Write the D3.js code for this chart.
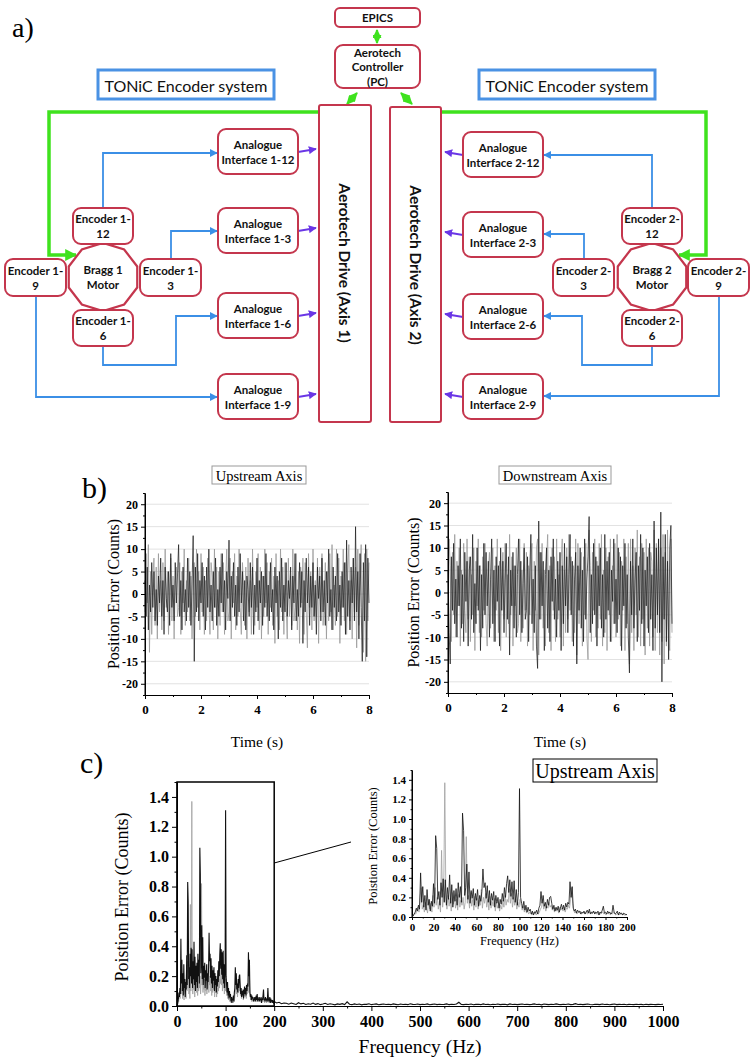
<!DOCTYPE html>
<html><head><meta charset="utf-8">
<script src="https://cdn.jsdelivr.net/npm/d3@7"></script>
<style>body{margin:0;background:#fff} svg{display:block}</style>
</head><body><svg id="c" width="756" height="1064"></svg>
<script>
// ---------------- DATA ----------------
const timeStep = 0.04; // s between samples
const upstreamBlack = [3,-5,6,-8,2,-4,7,-3,5,-6, 1,-7,4,-2,8,-5,3,-9,6,-1, -4,5,-7,9,-3,2,-6,7,-2,4, 11,-5,3,-8,6,-4,1,-6,8,-3, 5,-7,2,13,-15,6,-4,9,-6,3, -2,7,-5,4,-8,6,-3,10,-4,2, -6,5,-3,8,-7,1,-5,6,-2,9, -4,3,-8,5,-1,12,-6,4,-3,7, -5,2,-7,6,-4,9,-2,5,-6,3, -8,4,1,-5,7,-3,6,-9,2,-4, 8,-6,3,-2,5,-7,4,-3,9,-5, 2,-6,7,-4,1,-8,6,-2,4,-10, 5,-3,8,-6,2,-4,7,-5,3,-1, 6,-8,4,-2,9,-6,1,-5,7,-3, 5,-11,3,-4,8,-2,6,-7,4,-3, 7,-5,2,-9,6,-1,4,-6,8,-4, 3,-7,5,-2,10,-5,1,-8,6,-3, 4,-6,9,-4,2,-7,5,-3,7,-9, 12,-5,3,-8,6,-2,8,-6,15,-4, 5,-10,9,-3,-15,7,-6,11,-14,8, -2];
const upstreamGray = [-4,9,-2,11,-13,5,-9,4,8,-7, 6,-10,9,-4,3,-8,7,-6,10,-3, 5,-9,2,8,-6,4,-10,3,6,-5, -3,7,-9,5,-2,10,-7,3,-4,8, -6,4,-10,2,7,-5,10,-3,5,-8, 9,-4,6,-9,3,-6,8,-2,-9,7, 4,-8,10,-3,6,-10,5,-7,9,-4, 7,-9,3,10,-6,-4,8,-10,5,-2, 9,-8,4,-5,10,-3,-9,7,2,-7, 6,-10,8,-4,3,-9,10,-2,-7,5, -3,9,-8,6,-10,4,-5,10,-2,7, -9,5,-3,8,-7,4,-11,9,-5,3, -8,10,-4,6,-9,7,-3,-10,8,-5, 4,-7,10,-6,-3,9,-8,5,-11,6, -2,8,-9,7,-4,-12,9,-3,5,-8, 10,-6,3,-5,8,-11,6,-4,9,-7, -3,7,-10,5,-6,9,-4,11,-8,2, -7,10,-5,8,-11,4,-3,10,-6,7, -9,5,11,-6,3,-10,8,-4,6,-12, 10,-7,4,11,-5,-13,9,-15,10,-6, 7];
const downstreamBlack = [5,-9,-16,8,-4,11,-7,3,-10,6, -3,12,-8,4,-11,9,-2,7,-12,5, 8,-6,13,-9,2,-7,10,-4,6,-13, 4,-8,11,-5,9,-3,7,-10,3,12, -7,5,-11,8,-2,6,-12,10,-4,7, -9,3,11,-6,8,-14,5,-3,9,-8, 6,-10,4,12,-5,7,-9,2,10,-6, -4,8,-11,5,13,-7,3,-9,6,-12, -17,16,-6,9,-3,7,-13,4,10,-8, 5,-11,8,-2,12,-6,3,-10,7,-4, 9,-13,6,-7,11,-3,8,-9,4,13, -5,7,-12,3,9,-16,6,-4,10,-8, 5,-11,12,-6,3,8,17,-9,4,-7, 11,-5,8,-12,6,-3,10,-8,4,-10, 13,-6,7,-4,9,-11,5,-2,12,-7, 3,-9,10,-5,8,-13,6,-3,11,-8, 4,-10,-18,7,-5,12,-8,3,9,-11, 6,-4,13,-7,10,-12,5,-3,8,-9, 11,-6,4,-13,16,-8,10,-5,12,-9, 18,-20,8,-6,13,-11,7,-15,10,15, -7];
const downstreamGray = [-8,12,6,-11,9,-5,13,-10,7,-3, 10,-12,5,-7,11,-4,-9,12,-6,8, -11,4,-5,10,-13,7,-3,12,-9,6, -10,8,-4,11,-7,-12,5,9,-8,3, 10,-11,6,-4,12,-9,7,-13,3,9, -6,11,-10,4,-7,13,-5,8,-12,6, -3,10,-9,-7,12,-11,5,-8,11,-4, 9,-12,6,-5,8,11,-13,7,-4,10, 12,-14,9,-6,11,-8,5,-12,7,13, -9,6,-13,10,-4,8,-11,12,-6,4, -10,7,12,-12,5,-9,10,-6,13,-4, 8,-11,6,-9,12,-14,11,-7,4,9, -12,8,-5,11,-10,-15,14,6,-11,9, -4,12,-10,7,-8,11,-6,13,-12,5, -9,10,-13,8,-5,12,-11,6,-7,11, -10,13,-6,9,-12,7,-4,12,-13,8, -7,11,-16,12,-9,6,-13,10,-5,14, -10,8,-12,11,-6,9,-14,12,-8,10, -12,9,7,-10,14,-13,11,-9,12,-14, 10,-11,13,-16,9,-12,14,-10,-13,12, -9];
// Spectrum, 1 Hz bins 0..200 Hz
const spectrumBlack = [0.00,0.01,0.03,0.05,0.09,0.06,0.12,0.08,0.45,0.15, 0.31,0.10,0.22,0.07,0.28,0.12,0.18,0.06,0.16,0.11, 0.34,0.14,0.83,0.70,0.18,0.26,0.12,0.35,0.20,0.39, 0.15,0.38,0.12,0.30,0.18,0.43,0.14,0.33,0.10,0.27, 0.16,0.29,0.12,0.35,0.20,0.31,0.15,1.06,0.88,0.22, 0.30,0.54,0.18,0.46,0.14,0.27,0.19,0.29,0.12,0.24, 0.17,0.28,0.11,0.22,0.16,0.26,0.49,0.30,0.35,0.19, 0.32,0.15,0.27,0.12,0.24,0.17,0.26,0.10,0.22,0.14, 0.20,0.09,0.18,0.13,0.24,0.16,0.30,0.20,0.34,0.42, 0.25,0.38,0.21,0.36,0.18,0.37,0.15,0.28,0.12,0.25, 1.31,0.20,0.14,0.09,0.16,0.07,0.12,0.05,0.10,0.06, 0.08,0.03,0.06,0.02,0.05,0.04,0.07,0.03,0.09,0.12, 0.26,0.14,0.22,0.11,0.15,0.09,0.18,0.12,0.20,0.21, 0.14,0.08,0.12,0.06,0.10,0.07,0.11,0.05,0.09,0.13, 0.08,0.12,0.07,0.14,0.10,0.15,0.13,0.36,0.20,0.31, 0.09,0.06,0.08,0.04,0.07,0.05,0.06,0.03,0.05,0.04, 0.06,0.03,0.05,0.07,0.04,0.08,0.03,0.05,0.04,0.06, 0.03,0.05,0.04,0.06,0.02,0.05,0.04,0.07,0.11,0.04, 0.05,0.03,0.06,0.04,0.05,0.03,0.04,0.12,0.05,0.03, 0.04,0.06,0.02,0.05,0.03,0.04,0.02,0.04,0.03,0.02, 0.03];
// second trace, bins at 0.5 .. 199.5 Hz
const spectrumGray = [0.00,0.02,0.04,0.03,0.07,0.10,0.05,0.20,0.30,0.08, 0.12,0.05,0.15,0.09,0.04,0.18,0.08,0.14,0.05,0.22, 0.10,0.30,0.12,0.20,0.08,0.16,0.05,0.68,0.10,0.25, 1.37,0.20,0.08,0.22,0.11,0.19,0.06,0.25,0.13,0.20, 0.09,0.18,0.07,0.23,0.10,0.17,0.12,0.20,0.08,0.15, 0.82,0.14,0.22,0.09,0.25,0.11,0.18,0.07,0.21,0.10, 0.19,0.08,0.17,0.12,0.28,0.09,0.20,0.14,0.24,0.10, 0.18,0.07,0.21,0.09,0.16,0.11,0.19,0.06,0.15,0.09, 0.14,0.06,0.12,0.08,0.17,0.10,0.22,0.12,0.18,0.15, 0.29,0.14,0.24,0.10,0.20,0.12,0.18,0.08,0.15,0.10, 0.18,0.12,0.07,0.11,0.05,0.09,0.04,0.07,0.03,0.05, 0.04,0.02,0.05,0.03,0.06,0.02,0.04,0.03,0.05,0.08, 0.10,0.18,0.08,0.13,0.06,0.11,0.09,0.15,0.10,0.12, 0.07,0.10,0.05,0.09,0.06,0.08,0.04,0.10,0.07,0.09, 0.06,0.10,0.05,0.09,0.08,0.12,0.09,0.18,0.30,0.14, 0.07,0.04,0.06,0.03,0.05,0.04,0.06,0.03,0.04,0.05, 0.03,0.05,0.04,0.03,0.06,0.04,0.05,0.03,0.06,0.04, 0.05,0.03,0.04,0.02,0.05,0.03,0.04,0.05,0.03,0.04, 0.02,0.04,0.03,0.05,0.02,0.04,0.03,0.05,0.04,0.02, 0.03,0.04,0.02,0.03,0.04,0.02,0.03,0.02,0.03,0.02];
// tail, 5 Hz bins from 200 to 1000 Hz
const spectrumTail = [0.03,0.02,0.025,0.015,0.02,0.018,0.012,0.02,0.015,0.01, 0.022,0.014,0.018,0.01,0.015,0.012,0.02,0.011,0.016,0.009, 0.013,0.018,0.01,0.015,0.012,0.008,0.014,0.011,0.016,0.01, 0.028,0.012,0.009,0.014,0.01,0.013,0.008,0.012,0.011,0.015, 0.009,0.012,0.014,0.008,0.011,0.013,0.01,0.012,0.009,0.014, 0.011,0.008,0.013,0.01,0.012,0.009,0.015,0.011,0.01,0.013, 0.009,0.012,0.01,0.014,0.008,0.011,0.013,0.009,0.012,0.01, 0.011,0.014,0.009,0.012,0.01,0.013,0.025,0.011,0.009,0.012, 0.01,0.013,0.008,0.011,0.012,0.009,0.014,0.01,0.011,0.008, 0.012,0.01,0.013,0.009,0.011,0.012,0.008,0.014,0.01,0.012, 0.009,0.011,0.013,0.01,0.012,0.009,0.011,0.014,0.01,0.012, 0.008,0.013,0.011,0.009,0.012,0.01,0.014,0.011,0.009,0.012, 0.01,0.013,0.009,0.011,0.016,0.01,0.012,0.009,0.011,0.013, 0.01,0.008,0.012,0.011,0.009,0.013,0.01,0.012,0.008,0.011, 0.013,0.009,0.011,0.01,0.012,0.008,0.011,0.01,0.009,0.012, 0.01,0.011,0.008,0.012,0.009,0.011,0.01,0.009,0.011,0.01, 0.012];
const timeTicks = [0,2,4,6,8];
const errTicks = [-20,-15,-10,-5,0,5,10,15,20];
const freqTicksMain = [0,100,200,300,400,500,600,700,800,900,1000];
const freqTicksInset = [0,20,40,60,80,100,120,140,160,180,200];
const ampTicks = [0,0.2,0.4,0.6,0.8,1.0,1.2,1.4];

// Diagram labels
const leftInterfaces = ["1-12","1-3","1-6","1-9"];
const rightInterfaces = ["2-12","2-3","2-6","2-9"];

// ---------------- DRAW ----------------
const svg = d3.select("#c");
const COL = {box:"#c4364d", blue:"#3b8fe6", green:"#3fe21e", purple:"#6a36e6", tonic:"#4a92e4"};
const SANS = "Lato, 'Open Sans', sans-serif";
const SERIF = "'Liberation Serif', 'Times New Roman', serif";

const defs = svg.append("defs");
function marker(id, color, size){
  defs.append("marker").attr("id",id).attr("viewBox","0 0 10 10").attr("refX",9).attr("refY",5)
    .attr("markerWidth",size).attr("markerHeight",size).attr("markerUnits","userSpaceOnUse")
    .attr("orient","auto-start-reverse")
    .append("path").attr("d","M0,0 L10,5 L0,10 z").attr("fill",color);
}
marker("mb",COL.blue,8); marker("mg",COL.green,12); marker("mg2",COL.green,9); marker("mp",COL.purple,8);

const dg = svg.append("g");
function line(d,color,w,mk,both){
  const p = dg.append("path").attr("d",d).attr("fill","none").attr("stroke",color).attr("stroke-width",w);
  if(mk){ p.attr("marker-end",`url(#${mk})`); if(both) p.attr("marker-start",`url(#${mk})`); }
  return p;
}
function rbox(x,y,w,h,lines,opt={}){
  dg.append("rect").attr("x",x).attr("y",y).attr("width",w).attr("height",h)
    .attr("rx",opt.rx??8).attr("fill","#fff").attr("stroke",opt.stroke||COL.box).attr("stroke-width",opt.sw||2);
  const fs = opt.fs||11.5, lh = opt.lh||15;
  const cy = y+h/2 - (lines.length-1)*lh/2;
  lines.forEach((t,i)=>{
    dg.append("text").attr("x",x+w/2+(opt.dx||0)).attr("y",cy+i*lh).attr("text-anchor","middle")
      .attr("dominant-baseline","central").attr("font-family",opt.font||SANS)
      .attr("font-weight",opt.weight||"bold").attr("font-size",fs).attr("fill","#111").text(t);
  });
}
function poly(cx,cy,rx,ry,lines){
  const n=10, pts=d3.range(n).map(k=>{const a=(k*36+18)*Math.PI/180;return [cx+rx*Math.cos(a),cy+ry*Math.sin(a)];});
  dg.append("polygon").attr("points",pts.map(p=>p.join(",")).join(" ")).attr("fill","#fff").attr("stroke",COL.box).attr("stroke-width",2.2);
  lines.forEach((t,i)=>dg.append("text").attr("x",cx).attr("y",cy-7.5+i*15).attr("text-anchor","middle")
    .attr("dominant-baseline","central").attr("font-family",SANS).attr("font-weight","bold").attr("font-size",11.5).attr("fill","#111").text(t));
}

// panel label a)
svg.append("text").attr("x",12).attr("y",37).attr("font-family",SERIF).attr("font-size",28).text("a)");

// green lines
line("M319,112 H49 V255 H76",COL.green,3.5,"mg");
line("M441,112 H706 V255 H679",COL.green,3.5,"mg");
line("M377,30 V43",COL.green,2.2,"mg2",true);
line("M357,93 L347,104",COL.green,2.2,"mg2",true);
line("M401,93 L412,104",COL.green,2.2,"mg2",true);

// blue lines
line("M103,208 V153 H217",COL.blue,1.8,"mb");
line("M171,259 V231 H217",COL.blue,1.8,"mb");
line("M103,346 V365 H176 V316 H217",COL.blue,1.8,"mb");
line("M36,296 V397 H217",COL.blue,1.8,"mb");
line("M652,208 V155 H544",COL.blue,1.8,"mb");
line("M584,259 V234 H544",COL.blue,1.8,"mb");
line("M652,346 V365 H582 V316 H544",COL.blue,1.8,"mb");
line("M719,296 V396 H544",COL.blue,1.8,"mb");

// purple arrows
const leftTops=[129,208,293,374], rightTops=[132,212,294,374];
leftTops.forEach(t=>line(`M298,${t+23} L316,${t+20}`,COL.purple,1.8,"mp"));
rightTops.forEach(t=>line(`M463,${t+23} L445,${t+20}`,COL.purple,1.8,"mp"));

// TONiC boxes
[[98,"TONiC Encoder system"],[479,"TONiC Encoder system"]].forEach(([x,t])=>{
  dg.append("rect").attr("x",x).attr("y",70).attr("width",176).attr("height",29).attr("fill","#fff")
    .attr("stroke",COL.tonic).attr("stroke-width",3);
  dg.append("text").attr("x",x+88).attr("y",85).attr("text-anchor","middle").attr("dominant-baseline","central")
    .attr("font-family",SANS).attr("font-size",16).attr("fill","#111").text(t);
});

// controller + epics
rbox(335,8,85,19,["EPICS"],{rx:5,fs:11.5});
rbox(335,45,85,43,["Aerotech","Controller","(PC)"],{fs:11.5,lh:14.5});

// drives
[[319,105,52,317,"Aerotech Drive (Axis 1)"],[390,107,51,315,"Aerotech Drive (Axis 2)"]].forEach(([x,y,w,h,t])=>{
  dg.append("rect").attr("x",x).attr("y",y).attr("width",w).attr("height",h).attr("rx",2)
    .attr("fill","#fff").attr("stroke",COL.box).attr("stroke-width",2);
  dg.append("text").attr("transform",`translate(${x+w/2},${y+158}) rotate(90)`).attr("text-anchor","middle")
    .attr("dominant-baseline","central").attr("font-family",SANS).attr("font-weight","bold").attr("font-size",15.5)
    .attr("fill","#111").text(t);
});

// analogue interfaces
leftInterfaces.forEach((s,i)=>rbox(218,leftTops[i],80,45,["Analogue","Interface "+s]));
rightInterfaces.forEach((s,i)=>rbox(463,rightTops[i],80,45,["Analogue","Interface "+s]));

// motors + encoders
poly(103,277,36,34,["Bragg 1","Motor"]);
poly(652,277,36,34,["Bragg 2","Motor"]);
rbox(73,208,60,36,["Encoder 1-","12"]);
rbox(140,259,61,37,["Encoder 1-","3"]);
rbox(5,259,61,37,["Encoder 1-","9"]);
rbox(73,310,60,36,["Encoder 1-","6"]);
rbox(622,208,60,36,["Encoder 2-","12"]);
rbox(553,259,61,37,["Encoder 2-","3"]);
rbox(688,259,61,37,["Encoder 2-","9"]);
rbox(622,310,60,36,["Encoder 2-","6"]);

// ---------------- PANEL B ----------------
svg.append("text").attr("x",82).attr("y",498).attr("font-family",SERIF).attr("font-size",30).text("b)");

function styleAxis(g,fs,bold){
  g.selectAll("path").attr("stroke","#000").attr("stroke-width",1);
  g.selectAll("line").attr("stroke","#000");
  g.selectAll("text").attr("font-family",SERIF).attr("font-size",fs).attr("font-weight",bold?"bold":"normal").attr("fill","#000");
}
function range(a,b,s){const r=[];for(let v=a;v<=b+1e-9;v+=s)r.push(+v.toFixed(4));return r;}

function timePanel(x0,x1,yTop,yBot,black,gray,title,box,ytx){
  const xs=d3.scaleLinear([0,8],[x0,x1]);
  const ys=d3.scaleLinear([-22.5,22.5],[yBot,yTop]);
  const g=svg.append("g");
  g.selectAll("line.grid").data(errTicks).join("line").attr("x1",x0).attr("x2",x1)
    .attr("y1",d=>ys(d)).attr("y2",d=>ys(d)).attr("stroke","#e2e2e2").attr("stroke-width",1);
  const ln=d3.line().x((d,i)=>xs(i*timeStep)).y(d=>ys(d));
  g.append("path").attr("d",ln(gray)).attr("fill","none").attr("stroke","#9a9a9a").attr("stroke-width",0.8);
  g.append("path").attr("d",ln(black)).attr("fill","none").attr("stroke","#1a1a1a").attr("stroke-width",0.8).attr("opacity",0.9);
  const ax=g.append("g").attr("transform",`translate(${x0},0)`)
    .call(d3.axisLeft(ys).tickValues(errTicks).tickSize(4).tickFormat(d=>String(d)).tickSizeOuter(0));
  styleAxis(ax,12,true);
  const axm=g.append("g").attr("transform",`translate(${x0},0)`)
    .call(d3.axisLeft(ys).tickValues(range(-22.5,22.5,2.5).filter(v=>v%5!==0)).tickSize(2).tickFormat("").tickSizeOuter(0));
  axm.select("path").remove(); axm.selectAll("line").attr("stroke","#000");
  const bx=g.append("g").attr("transform",`translate(0,${yBot})`)
    .call(d3.axisBottom(xs).tickValues(timeTicks).tickSize(4).tickFormat(d=>String(d)).tickSizeOuter(0).tickPadding(6));
  styleAxis(bx,13,true);
  const bxm=g.append("g").attr("transform",`translate(0,${yBot})`)
    .call(d3.axisBottom(xs).tickValues([1,3,5,7]).tickSize(2).tickFormat("").tickSizeOuter(0));
  bxm.select("path").remove(); bxm.selectAll("line").attr("stroke","#000");
  g.append("line").attr("x1",x0).attr("x2",x0).attr("y1",yTop).attr("y2",yBot).attr("stroke","#000");
  g.append("text").attr("transform",`translate(${ytx},${(yTop+yBot)/2}) rotate(-90)`).attr("text-anchor","middle")
    .attr("dominant-baseline","central").attr("font-family",SERIF).attr("font-size",16).text("Position Error (Counts)");
  g.append("text").attr("x",(x0+x1)/2).attr("y",741).attr("text-anchor","middle").attr("dominant-baseline","central")
    .attr("font-family",SERIF).attr("font-size",15.5).text("Time (s)");
  g.append("rect").attr("x",box[0]).attr("y",466).attr("width",box[1]-box[0]).attr("height",18).attr("fill","#fff")
    .attr("stroke","#999").attr("stroke-width",1);
  g.append("text").attr("x",(box[0]+box[1])/2).attr("y",475.5).attr("text-anchor","middle").attr("dominant-baseline","central")
    .attr("font-family",SERIF).attr("font-size",14.5).text(title);
}
timePanel(145,369,493,695,upstreamBlack,upstreamGray,"Upstream Axis",[212,306],113);
timePanel(448,672,492,693,downstreamBlack,downstreamGray,"Downstream Axis",[499,611],413);

// ---------------- PANEL C ----------------
svg.append("text").attr("x",80).attr("y",773).attr("font-family",SERIF).attr("font-size",30).text("c)");

function specPanel(opt){
  const xs=d3.scaleLinear([0,opt.xmax],[opt.x0,opt.x1]);
  const ys=d3.scaleLinear([0,1.5],[opt.yBot,opt.yTop]);
  const g=svg.append("g");
  const ax=g.append("g").attr("transform",`translate(${opt.x0},0)`)
    .call(d3.axisLeft(ys).tickValues(ampTicks).tickSize(opt.tk).tickFormat(d3.format(".1f")).tickSizeOuter(0).tickPadding(3));
  styleAxis(ax,opt.fs,true);
  const axm=g.append("g").attr("transform",`translate(${opt.x0},0)`)
    .call(d3.axisLeft(ys).tickValues([0.1,0.3,0.5,0.7,0.9,1.1,1.3,1.5]).tickSize(opt.tk/2).tickFormat("").tickSizeOuter(0));
  axm.select("path").remove(); axm.selectAll("line").attr("stroke","#000");
  const bx=g.append("g").attr("transform",`translate(0,${opt.yBot})`)
    .call(d3.axisBottom(xs).tickValues(opt.xticks).tickSize(opt.tk).tickFormat(d=>String(d)).tickSizeOuter(0).tickPadding(opt.xpad));
  styleAxis(bx,opt.fs,true);
  const bxm=g.append("g").attr("transform",`translate(0,${opt.yBot})`)
    .call(d3.axisBottom(xs).tickValues(opt.xticks.slice(0,-1).map(v=>v+opt.xticks[1]/2)).tickSize(opt.tk/2).tickFormat("").tickSizeOuter(0));
  bxm.select("path").remove(); bxm.selectAll("line").attr("stroke","#000");
  g.append("line").attr("x1",opt.x0).attr("x2",opt.x0).attr("y1",opt.yTop).attr("y2",opt.yBot).attr("stroke","#000");
  // data drawn on top of the axes
  const gpts=spectrumGray.map((v,i)=>[i+0.5,v]);
  let bpts=spectrumBlack.map((v,i)=>[i,v]);
  if(opt.tail) bpts=bpts.concat(spectrumTail.slice(1).map((v,i)=>[205+5*i,v]));
  const ln=d3.line().x(d=>xs(d[0])).y(d=>ys(d[1]));
  g.append("path").attr("d",ln(gpts)).attr("fill","none").attr("stroke","#a0a0a0").attr("stroke-width",0.8);
  g.append("path").attr("d",ln(bpts)).attr("fill","none").attr("stroke","#111").attr("stroke-width",opt.tail?1.1:0.8);
  g.append("text").attr("transform",`translate(${opt.ytx},${opt.yty}) rotate(-90)`).attr("text-anchor","middle")
    .attr("dominant-baseline","central").attr("font-family",SERIF).attr("font-size",opt.tfs).text("Poistion Error (Counts)");
  g.append("text").attr("x",(opt.x0+opt.x1)/2).attr("y",opt.xty).attr("text-anchor","middle").attr("dominant-baseline","central")
    .attr("font-family",SERIF).attr("font-size",opt.xtfs).text("Frequency (Hz)");
  return {xs,ys,g};
}
const main=specPanel({xmax:1000,x0:177,x1:663,yTop:782,yBot:1006,xticks:freqTicksMain,tk:5,fs:16,xpad:5,ytx:122,yty:897,tfs:18,xty:1046,xtfs:19.5,tail:true});
// zoom rectangle + connector
main.g.append("rect").attr("x",main.xs(0)).attr("y",main.ys(1.5)).attr("width",main.xs(200)-main.xs(0))
  .attr("height",main.ys(0)-main.ys(1.5)).attr("fill","none").attr("stroke","#000").attr("stroke-width",1.5);
main.g.append("line").attr("x1",main.xs(200)).attr("y1",863).attr("x2",351).attr("y2",842).attr("stroke","#000").attr("stroke-width",1);

const inset=specPanel({xmax:200,x0:412,x1:627,yTop:770,yBot:917,xticks:freqTicksInset,tk:3,fs:11,xpad:3,ytx:373,yty:846,tfs:12.5,xty:941,xtfs:12.5});
inset.g.append("rect").attr("x",533).attr("y",759).attr("width",124).attr("height",23).attr("fill","#fff").attr("stroke","#000").attr("stroke-width",1);
inset.g.append("text").attr("x",595).attr("y",771).attr("text-anchor","middle").attr("dominant-baseline","central")
  .attr("font-family",SERIF).attr("font-size",20).text("Upstream Axis");
</script></body></html>
